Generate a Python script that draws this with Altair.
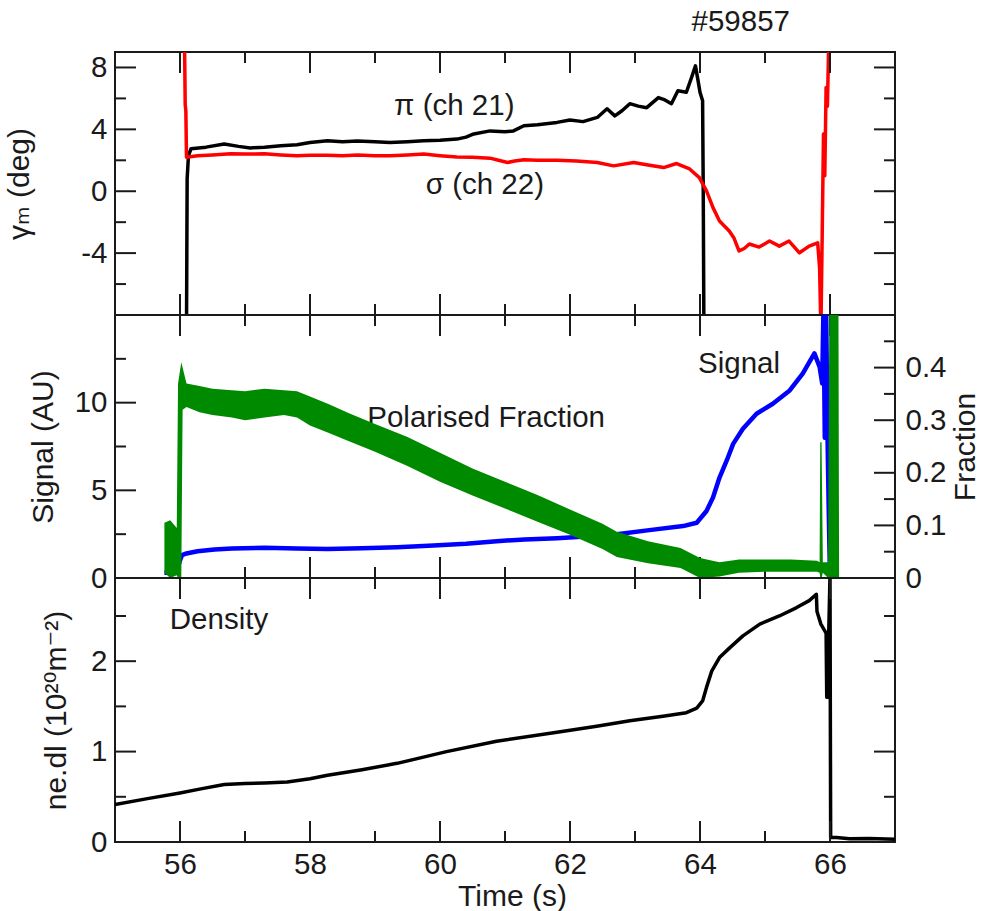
import altair as alt
import pandas as pd

FONT = "Liberation Sans, DejaVu Sans"
FS = 29.5
TFS = 30
INK = "#1a1a1a"
W = 780
H1, H2, H3 = 263, 263, 264

# ---------------- data ----------------
# top panel: gamma_m (deg)
pi_t = [56.10, 56.11, 56.13, 56.17, 56.4, 56.68, 56.9, 57.08, 57.3, 57.55, 57.8, 58.0, 58.27, 58.5,
        58.73, 59.0, 59.23, 59.5, 59.75, 60.0, 60.26, 60.4, 60.52, 60.77, 61.0, 61.13, 61.29, 61.5,
        61.8, 62.0, 62.2, 62.42, 62.57, 62.69, 62.8, 62.92, 63.05, 63.18, 63.36, 63.46, 63.56, 63.66,
        63.79, 63.87, 63.93, 63.97, 64.0, 64.04, 64.05, 64.06]
pi_v = [-9, 0.8, 2.3, 2.75, 2.85, 3.05, 2.9, 2.8, 2.85, 2.94, 3.0, 3.15, 3.26, 3.2,
        3.25, 3.2, 3.15, 3.2, 3.26, 3.3, 3.37, 3.5, 3.7, 3.9, 3.85, 3.9, 4.23, 4.3,
        4.45, 4.6, 4.5, 4.77, 5.33, 4.87, 5.2, 5.66, 5.5, 5.4, 6.05, 5.9, 5.66, 6.5,
        6.4, 7.35, 8.1, 7.15, 6.4, 5.85, 0.0, -9]

sg_t = [56.07, 56.08, 56.09, 56.10, 56.27, 56.5, 56.78, 57.0, 57.3, 57.55, 57.8, 58.0, 58.27, 58.5,
        58.73, 59.0, 59.23, 59.5, 59.75, 60.0, 60.26, 60.5, 60.77, 60.9, 61.04, 61.15, 61.29, 61.5,
        61.8, 62.1, 62.42, 62.67, 62.98, 63.2, 63.44, 63.64, 63.84, 63.99, 64.1, 64.2, 64.3, 64.45,
        64.52, 64.6, 64.68, 64.76, 64.91, 65.07, 65.22, 65.37, 65.53, 65.68, 65.81, 65.84, 65.86,
        65.88, 65.9, 65.92, 65.94, 65.96, 65.98]
sg_v = [9.5, 5.6, 5.2, 2.2, 2.29, 2.35, 2.42, 2.4, 2.42, 2.35, 2.3, 2.32, 2.33, 2.3,
        2.35, 2.3, 2.29, 2.35, 2.4, 2.3, 2.22, 2.2, 2.14, 2.0, 1.86, 1.95, 2.03, 2.0,
        2.0, 1.95, 1.86, 1.64, 1.86, 1.7, 1.53, 1.79, 1.44, 0.88, 0.02, -1.06, -1.92, -2.57,
        -3.0, -3.86, -3.7, -3.41, -3.61, -3.22, -3.55, -3.22, -3.98, -3.55, -3.33, -4.95, -9,
        -2.8, 3.7, 1.0, 6.7, 5.5, 9.5]

# middle panel: Signal (AU)
sig_t = [55.76, 55.85, 55.95, 56.0, 56.03, 56.1, 56.27, 56.53, 56.8, 57.3, 57.8, 58.27, 58.8, 59.34,
         59.9, 60.4, 60.87, 61.3, 61.8, 62.3, 62.72, 63.22, 63.74, 63.95, 64.1, 64.2, 64.3, 64.41,
         64.51, 64.66, 64.87, 65.12, 65.38, 65.58, 65.76, 65.84, 65.88, 65.9, 65.92, 65.94, 65.96,
         65.98, 66.0]
sig_v = [0.3, 0.3, 0.35, 1.0, 1.3, 1.4, 1.53, 1.63, 1.68, 1.72, 1.68, 1.65, 1.7, 1.76,
         1.85, 1.95, 2.1, 2.2, 2.27, 2.38, 2.49, 2.73, 2.96, 3.15, 3.82, 4.59, 5.73, 6.69,
         7.65, 8.51, 9.37, 9.94, 10.7, 11.66, 12.81, 12.04, 11.1, 15.5, 8.0, 15.5, 8.5,
         4.0, 0.0]

# middle panel: Polarised Fraction (noisy band: lower / upper envelope)
pf_t = [55.76, 55.85, 55.95, 55.97, 56.02, 56.04, 56.1, 56.3, 56.5, 56.8, 57.0, 57.3, 57.6, 57.8,
        58.0, 58.3, 58.6, 59.0, 59.5, 60.0, 60.5, 61.0, 61.5, 62.0, 62.5, 62.72, 63.2, 63.7,
        64.0, 64.3, 64.6, 65.0, 65.4, 65.8, 65.84, 65.85, 65.87, 65.89, 65.97, 65.99, 66.13, 66.14]
pf_lo = [0.01, 0.0, 0.005, 0.0, 0.0, 0.32, 0.325, 0.315, 0.31, 0.305, 0.30, 0.305, 0.31, 0.305,
         0.29, 0.275, 0.26, 0.24, 0.213, 0.183, 0.157, 0.132, 0.107, 0.082, 0.055, 0.04, 0.028, 0.019,
         0.0, 0.003, 0.01, 0.012, 0.012, 0.012, 0.01, 0.0, 0.0, 0.01, 0.0, 0.0, 0.0, 0.0]
pf_hi = [0.105, 0.11, 0.095, 0.37, 0.41, 0.40, 0.37, 0.365, 0.36, 0.357, 0.355, 0.36, 0.357, 0.355,
         0.345, 0.33, 0.313, 0.293, 0.268, 0.238, 0.208, 0.183, 0.158, 0.13, 0.103, 0.088, 0.07, 0.057,
         0.038, 0.03, 0.035, 0.035, 0.035, 0.033, 0.03, 0.258, 0.258, 0.03, 0.03, 0.52, 0.52, 0.0]

# bottom panel: ne.dl
den_t = [55.0, 55.5, 56.0, 56.3, 56.68, 57.0, 57.3, 57.65, 58.0, 58.27, 58.8, 59.34, 60.1, 60.87,
         61.8, 62.41, 62.92, 63.43, 63.79, 63.95, 64.04, 64.1, 64.18, 64.3, 64.46, 64.66, 64.92,
         65.22, 65.48, 65.68, 65.79, 65.8, 65.86, 65.94, 65.95, 65.96, 65.97, 65.98, 66.0, 66.01,
         66.1, 66.3, 66.6, 67.0]
den_v = [0.414, 0.48, 0.543, 0.585, 0.635, 0.648, 0.653, 0.664, 0.7, 0.739, 0.8, 0.87, 1.0, 1.115,
         1.215, 1.28, 1.34, 1.39, 1.43, 1.48, 1.56, 1.71, 1.89, 2.04, 2.15, 2.28, 2.41,
         2.5, 2.59, 2.67, 2.74, 2.55, 2.41, 2.31, 1.6, 2.25, 1.6, 2.3, 2.95, 0.05,
         0.05, 0.035, 0.04, 0.03]

# annotations
top_lab = ["π (ch 21)", "σ (ch 22)"]
top_lab_t = [60.22, 60.69]
top_lab_v = [5.5, 0.4]
mid_lab = ["Polarised Fraction", "Signal"]
mid_lab_t = [60.71, 64.6]
mid_lab_v = [9.1, 12.2]
bot_lab = ["Density"]
bot_lab_t = [56.6]
bot_lab_v = [2.46]

# axis ticks
x_major = [56, 58, 60, 62, 64, 66]
x_minor = [57, 59, 61, 63, 65]
top_major = [-4, 0, 4, 8]
top_minor = [-6, -2, 2, 6]
sig_major = [0, 5, 10]
sig_minor = [2.5, 7.5, 12.5]
frac_major = [0, 0.1, 0.2, 0.3, 0.4]
frac_minor = [0.05, 0.15, 0.25, 0.35, 0.45]
den_major = [0, 1, 2]
den_minor = [0.5, 1.5, 2.5]

# ---------------- scales ----------------
xscale = alt.Scale(domain=[55, 67], nice=False, zero=False)
top_scale = alt.Scale(domain=[-8, 9], nice=False, zero=False)
sig_scale = alt.Scale(domain=[0, 15], nice=False, zero=False)
frac_scale = alt.Scale(domain=[0, 0.5], nice=False, zero=False)
den_scale = alt.Scale(domain=[0, 2.92], nice=False, zero=False)

AX = dict(ticks=False, domain=False, grid=False, labelFont=FONT, labelFontSize=FS,
          labelColor=INK, titleFont=FONT, titleFontSize=TFS, titleFontWeight="normal",
          titleColor=INK, labelExpr="replace(datum.label, '\u2212', '-')")


def series(t, v):
    return pd.DataFrame({"t": t, "v": v, "i": range(len(t))})


def line(t, v, color, yscale, xaxis, yaxis, width=3.5):
    return alt.Chart(series(t, v)).mark_line(
        color=color, strokeWidth=width, clip=True, strokeJoin="round"
    ).encode(
        x=alt.X("t:Q", scale=xscale, axis=xaxis),
        y=alt.Y("v:Q", scale=yscale, axis=yaxis),
        order=alt.Order("i:Q"),
    )


def labels(texts, t, v, yscale, xaxis, yaxis):
    df = pd.DataFrame({"label": texts, "t": t, "v": v})
    return alt.Chart(df).mark_text(
        font=FONT, fontSize=FS, color=INK, align="center", baseline="middle"
    ).encode(
        x=alt.X("t:Q", scale=xscale, axis=xaxis),
        y=alt.Y("v:Q", scale=yscale, axis=yaxis),
        text="label:N",
    )


def xticks(H, xaxis):
    out = []
    for vals, L in ((x_major, 21), (x_minor, 11)):
        base = alt.Chart(pd.DataFrame({"t": vals})).mark_rule(color=INK, strokeWidth=2)
        xe = alt.X("t:Q", scale=xscale, axis=xaxis)
        out.append(base.encode(x=xe, y=alt.value(0), y2=alt.value(L)))
        out.append(base.encode(x=xe, y=alt.value(H), y2=alt.value(H - L)))
    return out


def yticks(major, minor, yscale, side, yaxis):
    out = []
    for vals, L in ((major, 21), (minor, 11)):
        base = alt.Chart(pd.DataFrame({"v": vals})).mark_rule(color=INK, strokeWidth=2)
        ye = alt.Y("v:Q", scale=yscale, axis=yaxis)
        if side == "left":
            out.append(base.encode(y=ye, x=alt.value(0), x2=alt.value(L)))
        else:
            out.append(base.encode(y=ye, x=alt.value(W), x2=alt.value(W - L)))
    return out


# ---------------- top panel ----------------
top_axis = alt.Axis(values=top_major, title="γₘ (deg)", labelPadding=8, titlePadding=46, **AX)
top = alt.layer(
    line(pi_t, pi_v, "#000000", top_scale, None, top_axis),
    line(sg_t, sg_v, "#ff0000", top_scale, None, top_axis),
    *xticks(H1, None),
    *yticks(top_major, top_minor, top_scale, "left", top_axis),
    *yticks(top_major, top_minor, top_scale, "right", top_axis),
    labels(top_lab, top_lab_t, top_lab_v, top_scale, None, top_axis),
).properties(
    width=W, height=H1,
    title=alt.Title("#59857", anchor="end", frame="group", dx=-105, offset=14,
                    font=FONT, fontSize=FS, fontWeight="normal", color=INK),
)

# ---------------- middle panel ----------------
sig_axis = alt.Axis(values=sig_major, title="Signal (AU)", labelPadding=8, titlePadding=16, **AX)
sig_layer = alt.layer(
    line(sig_t, sig_v, "#0000ff", sig_scale, None, sig_axis, width=4.5),
    *xticks(H2, None),
    *yticks(sig_major, sig_minor, sig_scale, "left", sig_axis),
    labels(mid_lab, mid_lab_t, mid_lab_v, sig_scale, None, sig_axis),
)
frac_axis = alt.Axis(values=frac_major, orient="right", title="Fraction", format="~g",
                     titleAngle=270, titleBaseline="top", labelPadding=10, titlePadding=4, **AX)
pf_df = pd.DataFrame({"t": pf_t, "v": pf_lo, "hi": pf_hi})
frac_layer = alt.layer(
    alt.Chart(pf_df).mark_area(color="#008a00", clip=True, opacity=1).encode(
        x=alt.X("t:Q", scale=xscale, axis=None),
        y=alt.Y("v:Q", scale=frac_scale, axis=frac_axis),
        y2="hi:Q",
    ),
    *yticks(frac_major, frac_minor, frac_scale, "right", frac_axis),
)
mid = alt.layer(sig_layer, frac_layer).resolve_scale(y="independent").properties(width=W, height=H2)

# ---------------- bottom panel ----------------
den_axis = alt.Axis(values=den_major, title="ne.dl (10²⁰m⁻²)", labelPadding=8, titlePadding=19, **AX)
x_axis = alt.Axis(values=x_major, title="Time (s)", labelPadding=8, titlePadding=3, titleX=397, **AX)
bot = alt.layer(
    line(den_t, den_v, "#000000", den_scale, x_axis, den_axis),
    *xticks(H3, x_axis),
    *yticks(den_major, den_minor, den_scale, "left", den_axis),
    *yticks(den_major, den_minor, den_scale, "right", den_axis),
    labels(bot_lab, bot_lab_t, bot_lab_v, den_scale, x_axis, den_axis),
).properties(width=W, height=H3)

chart = alt.vconcat(top, mid, bot, spacing=0, bounds="flush").configure_view(
    stroke=INK, strokeWidth=2
).properties(padding={"left": 3, "top": 5, "right": 0, "bottom": 0}, background="white")

chart.save("out.html", embed_options={"renderer": "svg", "actions": False})
